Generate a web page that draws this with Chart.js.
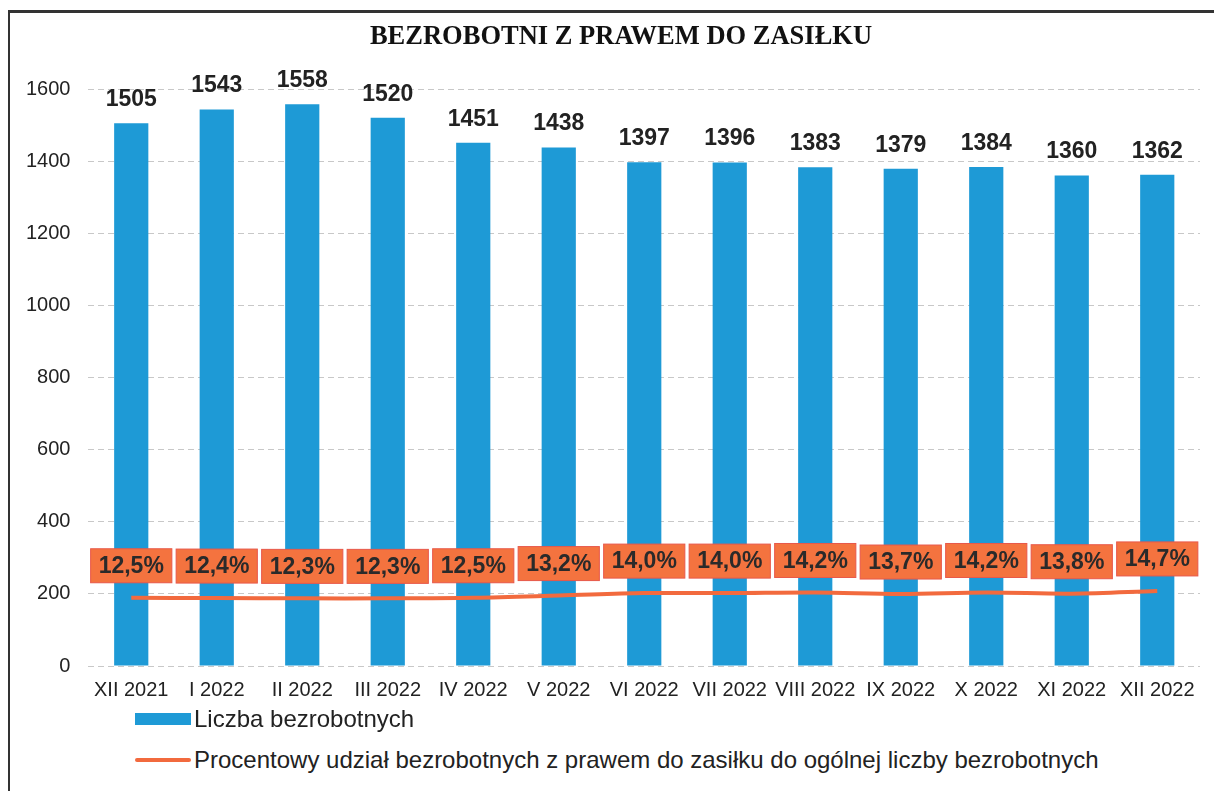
<!DOCTYPE html>
<html>
<head>
<meta charset="utf-8">
<script src="https://cdn.jsdelivr.net/npm/chart.js@4.4.0/dist/chart.umd.min.js"></script>
<style>
  body { margin: 0; background: #fff; }
  #wrap { position: relative; width: 1214px; height: 791px; overflow: hidden; }
  #ramka { position: absolute; left: 8px; top: 10px; right: -10px; bottom: -10px; border-left: 2px solid #333; border-top: 3px solid #333; }
  #tytul { position: absolute; left: 14px; top: 20px; width: 1214px; line-height: 30px; text-align: center; font-family: "Liberation Serif", "Times New Roman", serif; font-weight: bold; font-size: 26.5px; color: #111; }
  #box { position: absolute; left: 0; top: 0; width: 1214px; height: 724px; }
  .leg { position: absolute; left: 135px; font-family: "Liberation Sans", Arial, sans-serif; font-size: 24px; color: #222; display: flex; align-items: center; }
  .leg span.k { display: inline-block; width: 56px; margin-right: 3px; }
</style>
</head>
<body>
<div id="wrap">
  <div id="ramka"></div>
  <div id="box"><canvas id="wykres"></canvas></div>
  <div id="tytul">BEZROBOTNI Z PRAWEM DO ZASIŁKU</div>
  <div class="leg" style="top:705px"><span class="k" style="height:12px;background:#1e9ad6"></span>Liczba bezrobotnych</div>
  <div class="leg" style="top:746px"><span class="k" style="height:4px;background:#f26a3e;border-radius:2px"></span>Procentowy udział bezrobotnych z prawem do zasiłku do ogólnej liczby bezrobotnych</div>
</div>
<script>
// dane
const miesiace = ['XII 2021', 'I 2022', 'II 2022', 'III 2022', 'IV 2022', 'V 2022', 'VI 2022',
  'VII 2022', 'VIII 2022', 'IX 2022', 'X 2022', 'XI 2022', 'XII 2022'];
const liczba = [1505, 1543, 1558, 1520, 1451, 1438, 1397, 1396, 1383, 1379, 1384, 1360, 1362];
const procent = [12.5, 12.4, 12.3, 12.3, 12.5, 13.2, 14.0, 14.0, 14.2, 13.7, 14.2, 13.8, 14.7];
const osY = [0, 200, 400, 600, 800, 1000, 1200, 1400, 1600];

const niebieski = '#1e9ad6';
const pomaranczowy = '#f26a3e';

// etykiety nad slupkami i w ramkach
const etykiety = {
  id: 'etykiety',
  afterDatasetsDraw(chart) {
    const ctx = chart.ctx;
    ctx.save();
    // liczby nad slupkami
    const mBar = chart.getDatasetMeta(0);
    ctx.font = 'bold 23px "Liberation Sans", Arial, sans-serif';
    ctx.fillStyle = '#222';
    ctx.textAlign = 'center';
    ctx.textBaseline = 'bottom';
    mBar.data.forEach((el, i) => {
      ctx.fillText(liczba[i], el.x, el.y - 12);
    });
    // procenty w pomaranczowych ramkach
    const mLine = chart.getDatasetMeta(1);
    ctx.textBaseline = 'middle';
    mLine.data.forEach((el, i) => {
      const txt = procent[i].toFixed(1).replace('.', ',') + '%';
      const w = ctx.measureText(txt).width + 16;
      const h = 34;
      const cy = el.y - 32;
      ctx.fillStyle = '#f4733f';
      ctx.fillRect(el.x - w / 2, cy - h / 2, w, h);
      ctx.strokeStyle = '#e8584a';
      ctx.lineWidth = 1;
      ctx.strokeRect(el.x - w / 2, cy - h / 2, w, h);
      ctx.fillStyle = '#2a2a2a';
      ctx.fillText(txt, el.x, cy + 1);
    });
    ctx.restore();
  }
};

new Chart(document.getElementById('wykres'), {
  type: 'bar',
  data: {
    labels: miesiace,
    datasets: [{
      label: 'Liczba bezrobotnych',
      data: liczba,
      backgroundColor: niebieski,
      barPercentage: 0.8,
      categoryPercentage: 0.5,
      yAxisID: 'y',
      order: 2
    }, {
      type: 'line',
      label: 'Procentowy udział bezrobotnych z prawem do zasiłku do ogólnej liczby bezrobotnych',
      data: procent,
      borderColor: pomaranczowy,
      borderWidth: 4,
      pointRadius: 0,
      tension: 0.35,
      yAxisID: 'y1',
      order: 1
    }]
  },
  options: {
    responsive: true,
    maintainAspectRatio: false,
    animation: false,
    layout: { padding: { left: 8, right: 14, top: 89, bottom: 10 } },
    plugins: {
      legend: { display: false },
      tooltip: { enabled: false },
      title: { display: false }
    },
    scales: {
      x: {
        grid: { display: false, drawTicks: false },
        border: { display: false },
        ticks: { color: '#222', padding: 12, maxRotation: 0, autoSkip: false, font: { family: '"Liberation Sans", Arial, sans-serif', size: 20 } }
      },
      y: {
        min: 0,
        max: 1600,
        afterBuildTicks: (ax) => { ax.ticks = osY.map(v => ({ value: v })); },
        grid: { color: '#c8c8c8', drawTicks: false },
        border: { display: false, dash: [6, 4] },
        ticks: { color: '#222', padding: 18, callback: (v) => String(v), font: { family: '"Liberation Sans", Arial, sans-serif', size: 20 } }
      },
      y1: {
        display: false,
        min: -9.5,
        max: 176.5
      }
    }
  },
  plugins: [etykiety]
});
</script>
</body>
</html>
